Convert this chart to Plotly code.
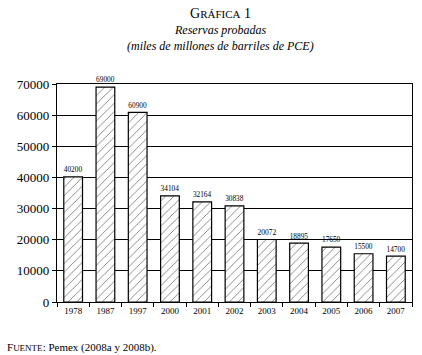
import plotly.graph_objects as go

years = ["1978", "1987", "1997", "2000", "2001", "2002", "2003", "2004", "2005", "2006", "2007"]
reserves = [40200, 69000, 60900, 34104, 32164, 30838, 20072, 18895, 17650, 15500, 14700]
y_ticks = [0, 10000, 20000, 30000, 40000, 50000, 60000, 70000]

serif = "Liberation Serif"

fig = go.Figure(go.Bar(
    x=years, y=reserves,
    text=[str(v) for v in reserves], textposition="outside",
    textfont=dict(family=serif, size=9, color="black"),
    outsidetextfont=dict(family=serif, size=9, color="black"),
    cliponaxis=False, hoverinfo="skip",
    marker=dict(color="white", line=dict(color="black", width=1.2),
                pattern=dict(shape="/", fgcolor="black", bgcolor="white", size=6, solidity=0.15)),
))

fig.update_layout(
    width=422, height=355,
    margin=dict(l=57, r=10, t=84, b=53, autoexpand=False),
    paper_bgcolor="white", plot_bgcolor="white",
    bargap=0.42, showlegend=False,
    font=dict(family=serif, color="black"),
    xaxis=dict(showline=True, linecolor="black", linewidth=1.2, mirror=True,
               ticks="outside", tickson="boundaries", ticklen=4, tickcolor="black",
               tickfont=dict(family=serif, size=9), showgrid=False),
    yaxis=dict(range=[0, 70000], tickvals=y_ticks, tickformat="d", showline=True, linecolor="black",
               linewidth=1.2, mirror=True, ticks="outside", ticklen=4, tickcolor="black",
               showgrid=True, gridcolor="black", gridwidth=1.2, zeroline=False,
               tickfont=dict(family=serif, size=13)),
    annotations=[
        dict(text="G<span style='font-size:11px'>RÁFICA</span> 1", x=0.52, y=13, xref="paper", yref="paper",
             showarrow=False, font=dict(family=serif, size=14)),
        dict(text="<i>Reservas probadas</i>", x=0.52, y=30, xref="paper", yref="paper",
             showarrow=False, font=dict(family=serif, size=12)),
        dict(text="<i>(miles de millones de barriles de PCE)</i>", x=0.52, y=46, xref="paper", yref="paper",
             showarrow=False, font=dict(family=serif, size=12)),
        dict(text="F<span style='font-size:9px'>UENTE</span>: Pemex (2008a y 2008b).", x=5, y=347,
             xref="paper", yref="paper", showarrow=False, xanchor="left",
             font=dict(family=serif, size=11)),
    ],
)

# convert pixel positions of annotations to paper coords
pw = 422 - 57 - 10
ph = 355 - 84 - 53
for a in fig.layout.annotations:
    px_y = a.y
    a.y = (355 - 53 - px_y) / ph
    a.yanchor = "middle"
    if a.xanchor == "left":
        a.x = (a.x - 57) / pw
    else:
        a.x = (220 - 57) / pw

fig.write_html("out.html", config={"displayModeBar": False},
               post_script="document.body.style.margin='0';")
